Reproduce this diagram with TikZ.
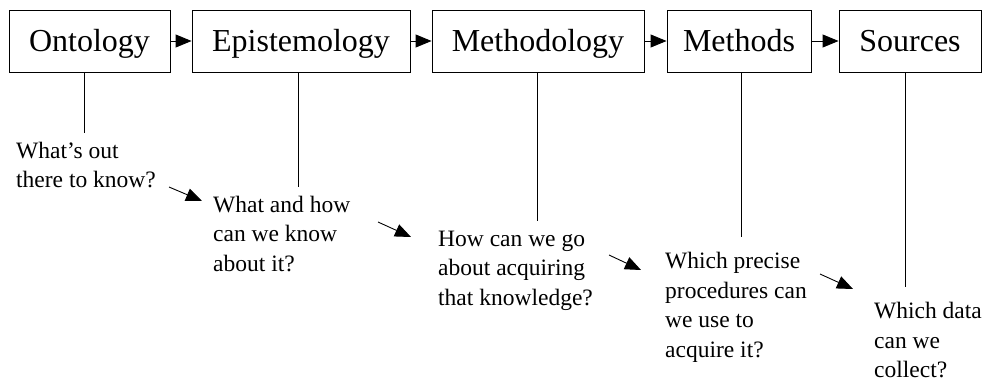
\documentclass[tikz,border=0pt]{standalone}
\usepackage{fontspec}
\setmainfont{Liberation Serif}
\usetikzlibrary{arrows.meta}
\begin{document}
\begin{tikzpicture}[x=1pt,y=-1pt,
 box/.style={draw,line width=0.9pt,inner sep=0pt,minimum height=62pt,text height=25pt,text depth=4pt,font=\fontsize{32}{38}\selectfont},
 q/.style={anchor=base west,align=left,inner sep=0pt,font=\fontsize{23.5}{29.5}\selectfont},
 link/.style={line width=0.9pt},
 arr/.style={line width=0.9pt,-{Triangle[length=16pt,width=13pt]}}]
\useasboundingbox (0,0) rectangle (987,386);
% boxes
\node[box,minimum width=161pt] (o) at (89.5,41) {Ontology};
\node[box,minimum width=218pt] (e) at (301,41) {Epistemology};
\node[box,minimum width=212pt] (m) at (538,41) {Methodology};
\node[box,minimum width=144pt] (t) at (739,41) {Methods};
\node[box,minimum width=142pt] (s) at (910,41) {Sources};
\draw[arr] (o.east) -- (e.west);
\draw[arr] (e.east) -- (m.west);
\draw[arr] (m.east) -- (t.west);
\draw[arr] (t.east) -- (s.west);
% vertical lines
\coordinate (lo) at (84,133);
\coordinate (le) at (298,187);
\coordinate (lm) at (537,221);
\coordinate (lt) at (741,237);
\coordinate (ls) at (905,287);
\draw[link] (lo |- o.south) -- (lo);
\draw[link] (le |- e.south) -- (le);
\draw[link] (lm |- m.south) -- (lm);
\draw[link] (lt |- t.south) -- (lt);
\draw[link] (ls |- s.south) -- (ls);
% questions (anchor = baseline of last line)
\node[q] (q1) at (16,187.5) {What’s out\\there to know?};
\node[q] (q2) at (213,271) {What and how\\can we know\\about it?};
\node[q] (q3) at (438,305) {How can we go\\about acquiring\\that knowledge?};
\node[q] (q4) at (665,357) {Which precise\\procedures can\\we use to\\acquire it?};
\node[q] (q5) at (874,377.5) {Which data\\can we\\collect?};
% diagonal arrows
\coordinate (a1s) at (169,187); \coordinate (a1e) at (202,201);
\coordinate (a2s) at (378,222); \coordinate (a2e) at (411,237);
\coordinate (a3s) at (609,255); \coordinate (a3e) at (641,270);
\coordinate (a4s) at (820,274); \coordinate (a4e) at (853,289);
\draw[arr] (a1s) -- (a1e);
\draw[arr] (a2s) -- (a2e);
\draw[arr] (a3s) -- (a3e);
\draw[arr] (a4s) -- (a4e);
\end{tikzpicture}
\end{document}
